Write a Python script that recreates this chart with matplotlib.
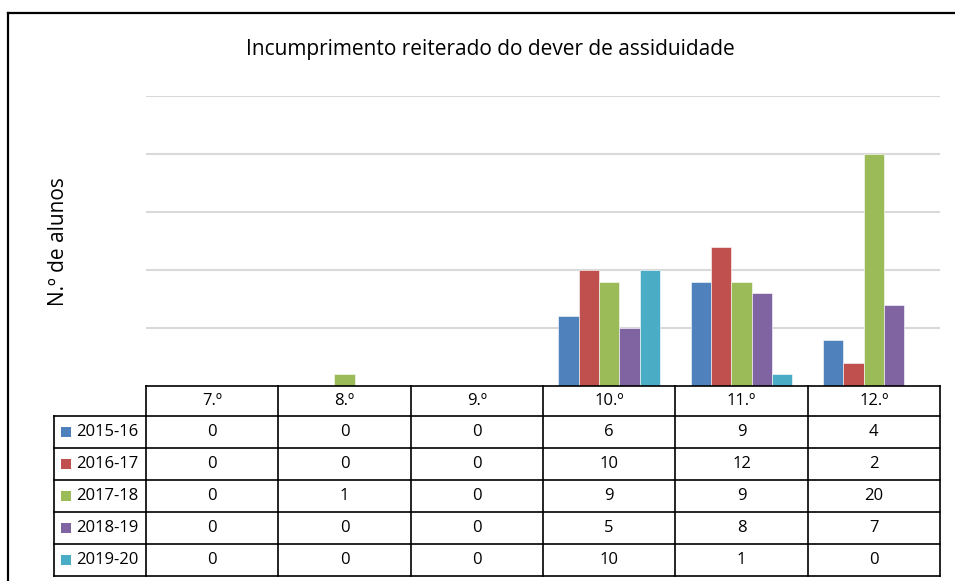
import matplotlib.pyplot as plt
from matplotlib.patches import Rectangle
from matplotlib.transforms import Affine2D

plt.rcParams['font.family'] = ['Open Sans', 'DejaVu Sans']

# dados do gráfico
anos = ['7.º', '8.º', '9.º', '10.º', '11.º', '12.º']
series = ['2015-16', '2016-17', '2017-18', '2018-19', '2019-20']
v_2015 = [0, 0, 0, 6, 9, 4]
v_2016 = [0, 0, 0, 10, 12, 2]
v_2017 = [0, 1, 0, 9, 9, 20]
v_2018 = [0, 0, 0, 5, 8, 7]
v_2019 = [0, 0, 0, 10, 1, 0]
valores = [v_2015, v_2016, v_2017, v_2018, v_2019]
cores = ['#4F81BD', '#C0504D', '#9BBB59', '#8064A2', '#4BACC6']

W, H = 955, 581
fig = plt.figure(figsize=(W / 100, H / 100), dpi=100)
px = Affine2D().scale(1 / W, -1 / H).translate(0, 1) + fig.transFigure  # coordenadas em pixeis

x0, x1, ybase, ytop = 146, 940, 386, 96
ax = fig.add_axes([x0 / W, 1 - ybase / H, (x1 - x0) / W, (ybase - ytop) / H])

n = len(series)
w = 0.154
for i, (nome, vals) in enumerate(zip(series, valores)):
    xs = [k + (i - (n - 1) / 2) * w for k in range(len(anos))]
    ax.bar(xs, vals, w, color=cores[i], edgecolor='white', linewidth=0.4, zorder=3)

ax.set_xlim(-0.5, len(anos) - 0.5)
ax.set_ylim(0, 25)
ax.set_yticks([5, 10, 15, 20, 25])
ax.yaxis.grid(True, color='#d9d9d9', linewidth=1.5, zorder=0)
ax.tick_params(left=False, bottom=False, labelleft=False, labelbottom=False)
for s in ax.spines.values():
    s.set_visible(False)

# título e eixo
fig.text(490, 49, 'Incumprimento reiterado do dever de assiduidade', transform=px,
         ha='center', va='center', fontsize=15)
fig.text(58, 242, 'N.º de alunos', transform=px, rotation=90,
         ha='center', va='center', fontsize=15)

# moldura da área do gráfico
fig.add_artist(plt.Line2D([8, 8], [13, H + 5], transform=px, color='black', lw=1.6))
fig.add_artist(plt.Line2D([8, W + 5], [13, 13], transform=px, color='black', lw=1.6))

# tabela de dados
cw = (x1 - x0) / len(anos)
xl = 54
rh = 32
yh = 416
lw = 1.2
def linha(xa, xb, ya, yb):
    fig.add_artist(plt.Line2D([xa, xb], [ya, yb], transform=px, color='black', lw=lw))

linha(x0, x1, ybase, ybase)
for k in range(len(anos) + 1):
    linha(x0 + k * cw, x0 + k * cw, ybase, yh + n * rh)
for k, a in enumerate(anos):
    fig.text(x0 + (k + 0.5) * cw, (ybase + yh) / 2, a, transform=px,
             ha='center', va='center', fontsize=12)
linha(xl, xl, yh, yh + n * rh)
for r in range(n + 1):
    linha(xl, x1, yh + r * rh, yh + r * rh)
for r, (nome, vals) in enumerate(zip(series, valores)):
    yc = yh + (r + 0.5) * rh
    fig.add_artist(Rectangle((61, yc - 5), 10, 10, transform=px, facecolor=cores[r], edgecolor='none'))
    fig.text(76, yc, nome, transform=px, ha='left', va='center', fontsize=12)
    for k, v in enumerate(vals):
        fig.text(x0 + (k + 0.5) * cw, yc, str(v), transform=px,
                 ha='center', va='center', fontsize=12)

fig.savefig('out.png', dpi=100)
